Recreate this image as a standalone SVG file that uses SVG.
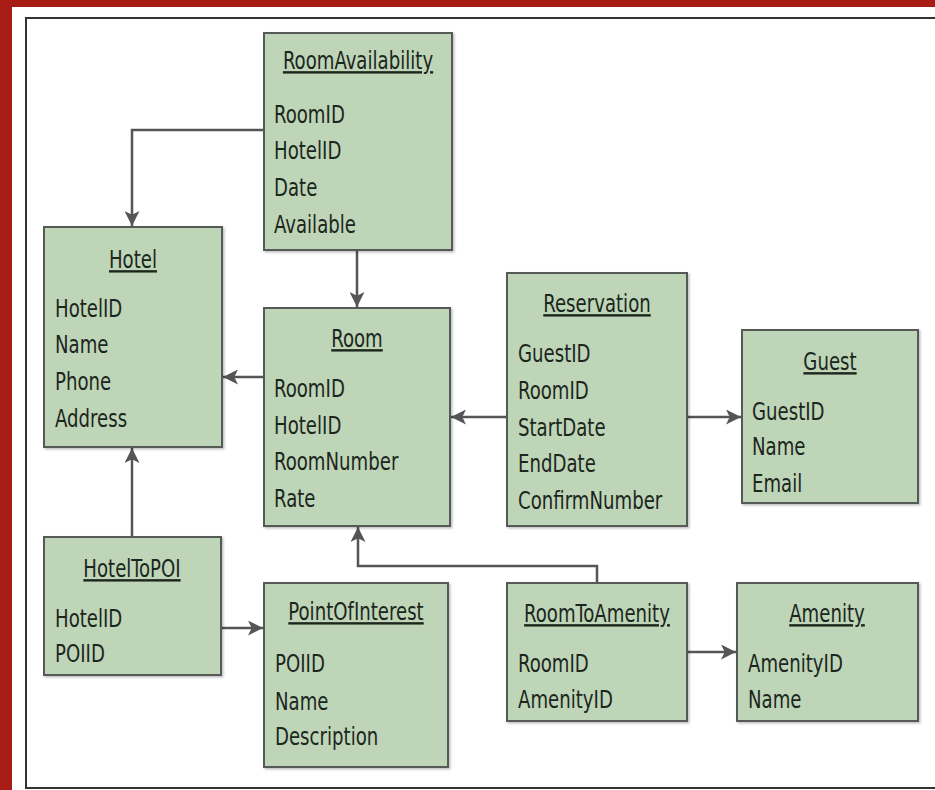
<svg xmlns="http://www.w3.org/2000/svg" width="935" height="790" viewBox="0 0 935 790">
  <defs>
    <marker id="arrow" viewBox="0 0 10 10" refX="10" refY="5" markerWidth="15" markerHeight="15" markerUnits="userSpaceOnUse" orient="auto">
      <path d="M0,0 L10,5 L0,10 L2.5,5 Z" fill="#555"/>
    </marker>
    <filter id="shadow" x="-5%" y="-5%" width="115%" height="115%">
      <feDropShadow dx="1.5" dy="1.5" stdDeviation="1.2" flood-color="#000" flood-opacity="0.25"/>
    </filter>
  </defs>
  <style>
    .box { fill: #bed5b8; stroke: #575a57; stroke-width: 2; filter: url(#shadow); }
    .title, .field { font-family: "Liberation Sans Narrow", "DejaVu Sans Condensed", "Liberation Sans", sans-serif; font-size: 24px; fill: #1c261c; transform-box: fill-box; transform: scaleX(0.84); }
    .title { text-anchor: middle; text-decoration: underline; transform-origin: 50% 50%; }
    .field { transform-origin: 0 50%; }
    .conn { fill: none; stroke: #555; stroke-width: 2.5; marker-end: url(#arrow); }
  </style>

  <!-- page background and red margin -->
  <rect x="0" y="0" width="935" height="790" fill="#ffffff"/>
  <rect x="0" y="0" width="935" height="7" fill="#a81c16"/>
  <rect x="0" y="0" width="12" height="790" fill="#a81c16"/>
  <!-- figure frame -->
  <path d="M940,18 H26 V788 H940" fill="none" stroke="#333" stroke-width="2"/>

  <!-- connectors -->
  <g id="connectors">
    <path class="conn" d="M264,130 H132 V226"/>
    <path class="conn" d="M357,250 V307"/>
    <path class="conn" d="M264,377 H223"/>
    <path class="conn" d="M507,417 H451"/>
    <path class="conn" d="M687,417 H741"/>
    <path class="conn" d="M132,537 V448"/>
    <path class="conn" d="M221,628 H263"/>
    <path class="conn" d="M597,583 V566 H358 V527"/>
    <path class="conn" d="M687,652 H736"/>
  </g>

  <g id="RoomAvailability">
    <rect class="box" x="264" y="33" width="188" height="217"/>
    <text class="title" x="358" y="69">RoomAvailability</text>
    <text class="field" x="274" y="123">RoomID</text>
    <text class="field" x="274" y="159">HotelID</text>
    <text class="field" x="274" y="196">Date</text>
    <text class="field" x="274" y="233">Available</text>
  </g>

  <g id="Hotel">
    <rect class="box" x="44" y="227" width="178" height="220"/>
    <text class="title" x="133" y="268">Hotel</text>
    <text class="field" x="55" y="317">HotelID</text>
    <text class="field" x="55" y="353">Name</text>
    <text class="field" x="55" y="390">Phone</text>
    <text class="field" x="55" y="427">Address</text>
  </g>

  <g id="Room">
    <rect class="box" x="264" y="308" width="186" height="218"/>
    <text class="title" x="357" y="347">Room</text>
    <text class="field" x="274" y="397">RoomID</text>
    <text class="field" x="274" y="434">HotelID</text>
    <text class="field" x="274" y="470">RoomNumber</text>
    <text class="field" x="274" y="507">Rate</text>
  </g>

  <g id="Reservation">
    <rect class="box" x="507" y="273" width="180" height="253"/>
    <text class="title" x="597" y="312">Reservation</text>
    <text class="field" x="518" y="362">GuestID</text>
    <text class="field" x="518" y="399">RoomID</text>
    <text class="field" x="518" y="436">StartDate</text>
    <text class="field" x="518" y="472">EndDate</text>
    <text class="field" x="518" y="509">ConfirmNumber</text>
  </g>

  <g id="Guest">
    <rect class="box" x="742" y="330" width="176" height="173"/>
    <text class="title" x="830" y="370">Guest</text>
    <text class="field" x="752" y="420">GuestID</text>
    <text class="field" x="752" y="455">Name</text>
    <text class="field" x="752" y="492">Email</text>
  </g>

  <g id="HotelToPOI">
    <rect class="box" x="44" y="537" width="177" height="138"/>
    <text class="title" x="132" y="577">HotelToPOI</text>
    <text class="field" x="55" y="627">HotelID</text>
    <text class="field" x="55" y="662">POIID</text>
  </g>

  <g id="PointOfInterest">
    <rect class="box" x="264" y="583" width="184" height="184"/>
    <text class="title" x="356" y="620">PointOfInterest</text>
    <text class="field" x="275" y="672">POIID</text>
    <text class="field" x="275" y="710">Name</text>
    <text class="field" x="275" y="745">Description</text>
  </g>

  <g id="RoomToAmenity">
    <rect class="box" x="507" y="583" width="180" height="138"/>
    <text class="title" x="597" y="622">RoomToAmenity</text>
    <text class="field" x="518" y="672">RoomID</text>
    <text class="field" x="518" y="708">AmenityID</text>
  </g>

  <g id="Amenity">
    <rect class="box" x="737" y="583" width="181" height="138"/>
    <text class="title" x="827" y="622">Amenity</text>
    <text class="field" x="748" y="672">AmenityID</text>
    <text class="field" x="748" y="708">Name</text>
  </g>
</svg>
